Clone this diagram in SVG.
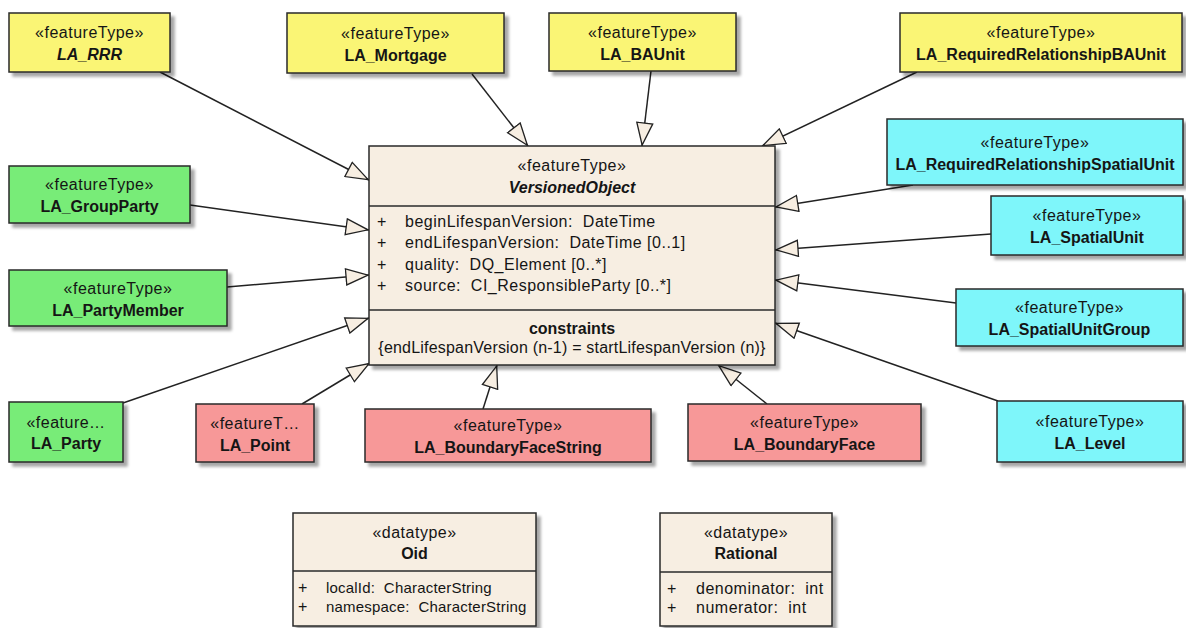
<svg xmlns="http://www.w3.org/2000/svg" width="1186" height="628" viewBox="0 0 1186 628">
<defs>
<filter id="sh" x="-10%" y="-10%" width="130%" height="140%">
<feGaussianBlur in="SourceAlpha" stdDeviation="1.5"/>
<feOffset dx="4" dy="4" result="b"/>
<feComponentTransfer><feFuncA type="linear" slope="0.35"/></feComponentTransfer>
<feMerge><feMergeNode/><feMergeNode in="SourceGraphic"/></feMerge>
</filter>
<marker id="gen" viewBox="0 0 24 18" refX="24" refY="9" markerWidth="24" markerHeight="18" markerUnits="userSpaceOnUse" orient="auto">
<path d="M1,1 L23,9 L1,17 Z" fill="#F7EEE2" stroke="#222" stroke-width="1.3"/>
</marker>
</defs>
<style>
.box{stroke:#2a2a2a;stroke-width:1.5;filter:url(#sh)}
.y{fill:#FAF575}.g{fill:#78EC78}.c{fill:#7EF6FA}.p{fill:#F79898}.b{fill:#F7EEE2}
text{font-family:"Liberation Sans",Arial,sans-serif;font-size:16px;fill:#151515}
.st{text-anchor:middle;letter-spacing:0.5px}
.nm{text-anchor:middle;font-weight:bold}
.it{font-style:italic}
.at{letter-spacing:0.5px;white-space:pre}
.at2{font-size:15px;letter-spacing:0.2px;white-space:pre}
.dv{stroke:#2a2a2a;stroke-width:1.5}
.ln{stroke:#222;stroke-width:1.5;fill:none;marker-end:url(#gen)}
</style>
<rect width="1186" height="628" fill="#ffffff"/>
<g id="connectors">
<line class="ln" x1="160" y1="72" x2="369" y2="180"/>
<line class="ln" x1="472" y1="74" x2="528" y2="146"/>
<line class="ln" x1="651" y1="71" x2="642" y2="146"/>
<line class="ln" x1="917" y1="72" x2="762" y2="146"/>
<line class="ln" x1="913" y1="185" x2="775" y2="207"/>
<line class="ln" x1="991" y1="234" x2="775" y2="250"/>
<line class="ln" x1="956" y1="303" x2="775" y2="280"/>
<line class="ln" x1="998" y1="401" x2="775" y2="323"/>
<line class="ln" x1="767" y1="404" x2="718" y2="365"/>
<line class="ln" x1="483" y1="409" x2="497" y2="365"/>
<line class="ln" x1="302" y1="404" x2="370" y2="363"/>
<line class="ln" x1="123" y1="403" x2="369" y2="318"/>
<line class="ln" x1="227" y1="287" x2="369" y2="275"/>
<line class="ln" x1="190" y1="205" x2="369" y2="230"/>
</g>
<g id="LA_RRR">
<rect class="box y" x="9" y="13" width="161" height="59"/>
<text class="st" x="89.5" y="38">«featureType»</text>
<text class="nm it" x="89.5" y="60">LA_RRR</text>
</g>
<g id="LA_Mortgage">
<rect class="box y" x="287" y="13" width="217" height="60"/>
<text class="st" x="395.5" y="38.5">«featureType»</text>
<text class="nm" x="395.5" y="60.5">LA_Mortgage</text>
</g>
<g id="LA_BAUnit">
<rect class="box y" x="549" y="13" width="187" height="58"/>
<text class="st" x="642.5" y="37.5">«featureType»</text>
<text class="nm" x="642.5" y="59.5">LA_BAUnit</text>
</g>
<g id="LA_RequiredRelationshipBAUnit">
<rect class="box y" x="900" y="13" width="282" height="59"/>
<text class="st" x="1041" y="38">«featureType»</text>
<text class="nm" x="1041" y="60">LA_RequiredRelationshipBAUnit</text>
</g>
<g id="LA_RequiredRelationshipSpatialUnit">
<rect class="box c" x="887" y="119" width="296" height="66"/>
<text class="st" x="1035" y="147.5">«featureType»</text>
<text class="nm" x="1035" y="169.5">LA_RequiredRelationshipSpatialUnit</text>
</g>
<g id="LA_SpatialUnit">
<rect class="box c" x="991" y="196" width="192" height="59"/>
<text class="st" x="1087" y="221">«featureType»</text>
<text class="nm" x="1087" y="243">LA_SpatialUnit</text>
</g>
<g id="LA_SpatialUnitGroup">
<rect class="box c" x="956" y="289" width="227" height="57"/>
<text class="st" x="1069.5" y="313">«featureType»</text>
<text class="nm" x="1069.5" y="335">LA_SpatialUnitGroup</text>
</g>
<g id="LA_Level">
<rect class="box c" x="997" y="401" width="186" height="61"/>
<text class="st" x="1090" y="427">«featureType»</text>
<text class="nm" x="1090" y="449">LA_Level</text>
</g>
<g id="LA_BoundaryFace">
<rect class="box p" x="688" y="404" width="233" height="57"/>
<text class="st" x="804.5" y="428">«featureType»</text>
<text class="nm" x="804.5" y="450">LA_BoundaryFace</text>
</g>
<g id="LA_BoundaryFaceString">
<rect class="box p" x="365" y="409" width="286" height="53"/>
<text class="st" x="508" y="431">«featureType»</text>
<text class="nm" x="508" y="453">LA_BoundaryFaceString</text>
</g>
<g id="LA_Point">
<rect class="box p" x="196" y="404" width="118" height="58"/>
<text class="st" x="255" y="428.5">«featureT…</text>
<text class="nm" x="255" y="450.5">LA_Point</text>
</g>
<g id="LA_Party">
<rect class="box g" x="9" y="402" width="114" height="60"/>
<text class="st" x="66" y="427.5">«feature…</text>
<text class="nm" x="66" y="449">LA_Party</text>
</g>
<g id="LA_PartyMember">
<rect class="box g" x="9" y="270" width="218" height="56"/>
<text class="st" x="118" y="293.5">«featureType»</text>
<text class="nm" x="118" y="315.5">LA_PartyMember</text>
</g>
<g id="LA_GroupParty">
<rect class="box g" x="9" y="166" width="181" height="57"/>
<text class="st" x="99.5" y="190">«featureType»</text>
<text class="nm" x="99.5" y="212">LA_GroupParty</text>
</g>
<g id="VersionedObject">
<rect class="box b" x="369" y="146" width="406" height="219"/>
<line class="dv" x1="369" y1="206" x2="775" y2="206"/>
<line class="dv" x1="369" y1="310" x2="775" y2="310"/>
<text class="st" x="572" y="170.5">«featureType»</text>
<text class="nm it" x="572" y="192.5">VersionedObject</text>
<text x="377" y="226.5">+</text><text class="at" x="405" y="226.5" xml:space="preserve">beginLifespanVersion:  DateTime</text>
<text x="377" y="248">+</text><text class="at" x="405" y="248" xml:space="preserve">endLifespanVersion:  DateTime [0..1]</text>
<text x="377" y="269.5">+</text><text class="at" x="405" y="269.5" xml:space="preserve">quality:  DQ_Element [0..*]</text>
<text x="377" y="291">+</text><text class="at" x="405" y="291" xml:space="preserve">source:  CI_ResponsibleParty [0..*]</text>
<text class="nm" x="572" y="334">constraints</text>
<text class="st" x="572" y="353" style="letter-spacing:0.2px">{endLifespanVersion (n-1) = startLifespanVersion (n)}</text>
</g>
<g id="Oid">
<rect class="box b" x="293" y="513" width="243" height="113"/>
<line class="dv" x1="293" y1="571" x2="536" y2="571"/>
<text class="st" x="414.5" y="537.5">«datatype»</text>
<text class="nm" x="414.5" y="559">Oid</text>
<text x="298" y="593">+</text><text class="at2" x="326" y="593" xml:space="preserve">localId:  CharacterString</text>
<text x="298" y="612">+</text><text class="at2" x="326" y="612" xml:space="preserve">namespace:  CharacterString</text>
</g>
<g id="Rational">
<rect class="box b" x="660" y="513" width="172" height="113"/>
<line class="dv" x1="660" y1="572" x2="832" y2="572"/>
<text class="st" x="746" y="537.5">«datatype»</text>
<text class="nm" x="746" y="559">Rational</text>
<text x="667" y="594">+</text><text class="at" x="696" y="594" xml:space="preserve">denominator:  int</text>
<text x="667" y="613">+</text><text class="at" x="696" y="613" xml:space="preserve">numerator:  int</text>
</g>
</svg>
